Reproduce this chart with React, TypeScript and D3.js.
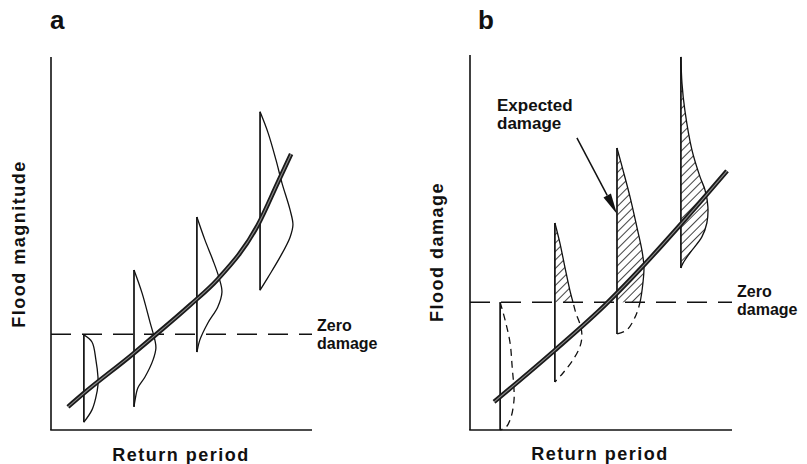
import React from "react";
import * as d3 from "d3";

const W = 807;
const H = 464;

// ---------- Panel a (domain units 0-100) ----------
const curveA_x = [6.5, 12.3, 31.4, 38.7, 53.3, 64.0, 79.3, 87.0, 92.0];
const curveA_y = [6.2, 9.7, 20.4, 24.7, 33.5, 40.5, 55.0, 66.5, 74.0];
const zeroA = 25.7;
const distA_x = [12.6, 31.8, 55.9, 80.1];
const distA1_v = [25.5, 23.6, 18.8, 14.2, 12.1, 8.8, 5.4, 2.1];
const distA1_w = [0, 3.1, 4.6, 5.4, 5.4, 4.6, 3.1, 0];
const distA2_v = [42.9, 36.7, 29.0, 24.1, 22.0, 18.8, 14.2, 11.3, 8.0, 6.2];
const distA2_w = [0, 3.1, 6.1, 8.0, 8.4, 7.3, 4.2, 1.5, 0.4, 0];
const distA3_v = [57.1, 50.9, 45.6, 41.0, 37.0, 33.0, 28.7, 24.1, 20.9];
const distA3_w = [0, 3.1, 6.1, 8.4, 9.6, 8.0, 4.2, 1.1, 0];
const distA4_v = [85.3, 79.6, 72.4, 66.2, 59.0, 55.0, 51.7, 46.4, 41.0, 37.5];
const distA4_w = [0, 3.1, 6.1, 8.4, 11.5, 12.6, 11.5, 7.7, 3.1, 0];

// ---------- Panel b ----------
const curveB_x = [9.2, 32.1, 51.5, 66.0, 80.5, 98.1];
const curveB_y = [7.5, 21.1, 33.3, 43.7, 54.9, 69.1];
const zeroB = 34.1;
const distB_x = [11.5, 32.4, 56.1, 80.5];
const distB1_v = [34.1, 29.3, 23.2, 16.8, 10.7, 8.0, 3.5, 0.8, 0];
const distB1_w = [0, 1.9, 3.8, 4.6, 5.3, 5.3, 4.2, 2.3, 0];
const distB2_v = [55.2, 49.9, 43.5, 37.3, 34.1, 31.2, 27.5, 24.8, 22.1, 18.7, 15.2, 12.8];
const distB2_w = [0, 1.9, 3.8, 5.7, 6.9, 8.0, 9.9, 10.3, 9.5, 6.9, 3.1, 0];
const distB3_v = [75.2, 69.3, 62.1, 54.1, 48.0, 43.5, 39.2, 34.1, 30.1, 26.7, 25.6];
const distB3_w = [0, 2.3, 5.0, 7.6, 9.5, 10.3, 9.9, 8.8, 6.9, 3.8, 0];
const distB4_v = [99.5, 92.5, 85.3, 74.7, 67.5, 64.0, 59.5, 55.2, 51.5, 47.2, 44.5, 43.2];
const distB4_w = [0, 0.4, 1.5, 4.2, 7.3, 9.2, 10.3, 9.9, 8.0, 3.4, 0.8, 0];

const arrowFrom = [40.8, 77.9];
const arrowTo = [56.1, 57.6];

const labelsA = { panel: "a", y: "Flood magnitude", x: "Return period", zero: ["Zero", "damage"] };
const labelsB = { panel: "b", y: "Flood damage", x: "Return period", zero: ["Zero", "damage"], note: ["Expected", "damage"] };

const FONT = "'Liberation Sans', Arial, Helvetica, sans-serif";
const INK = "#111";

const xA = d3.scaleLinear().domain([0, 100]).range([51, 312]);
const yA = d3.scaleLinear().domain([0, 100]).range([430, 57]);
const xB = d3.scaleLinear().domain([0, 100]).range([470, 732]);
const yB = d3.scaleLinear().domain([0, 100]).range([430, 55]);

type S = d3.ScaleLinear<number, number>;

function zip(a: number[], b: number[]): [number, number][] {
  return a.map((v, i) => [v, b[i]]);
}

function distPath(base: number, vs: number[], ws: number[], x: S, y: S) {
  const line = d3
    .line<[number, number]>()
    .x((d) => x(base + d[1]))
    .y((d) => y(d[0]))
    .curve(d3.curveCatmullRom.alpha(0.5));
  return line(zip(vs, ws)) || "";
}

function thickPath(xs: number[], ys: number[], x: S, y: S) {
  const line = d3
    .line<[number, number]>()
    .x((d) => x(d[0]))
    .y((d) => y(d[1]))
    .curve(d3.curveMonotoneX);
  return line(zip(xs, ys)) || "";
}

function ThickCurve({ d }: { d: string }) {
  return (
    <g>
      <path d={d} fill="none" stroke="#1a1a1a" strokeWidth={4.6} strokeLinecap="butt" />
      <path d={d} fill="none" stroke="#8a8a8a" strokeWidth={1.1} />
    </g>
  );
}

function Axes({ x, y }: { x: S; y: S }) {
  return (
    <g stroke={INK} strokeWidth={1.6}>
      <line x1={x(0)} y1={y(0)} x2={x(0)} y2={y(100)} />
      <line x1={x(0) - 0.8} y1={y(0)} x2={x(100)} y2={y(0)} />
    </g>
  );
}

export default function App() {
  const distsA = [
    [distA1_v, distA1_w],
    [distA2_v, distA2_w],
    [distA3_v, distA3_w],
    [distA4_v, distA4_w],
  ];
  const distsB = [
    [distB1_v, distB1_w],
    [distB2_v, distB2_w],
    [distB3_v, distB3_w],
    [distB4_v, distB4_w],
  ];

  const zeroYB = yB(zeroB);

  // arrow geometry
  const ax1 = xB(arrowFrom[0]);
  const ay1 = yB(arrowFrom[1]);
  const ax2 = xB(arrowTo[0]);
  const ay2 = yB(arrowTo[1]);
  const ang = Math.atan2(ay2 - ay1, ax2 - ax1);
  const headLen = 21;
  const headW = 4.2;
  const bx = ax2 - headLen * Math.cos(ang);
  const by = ay2 - headLen * Math.sin(ang);
  const px = -Math.sin(ang) * headW;
  const py = Math.cos(ang) * headW;

  const titleStyle: React.CSSProperties = {
    fontFamily: FONT,
    fontWeight: 700,
    fontSize: 18,
    letterSpacing: 1.5,
  };
  const smallStyle: React.CSSProperties = {
    fontFamily: FONT,
    fontWeight: 700,
    fontSize: 16,
  };

  return (
    <svg
      width={W}
      height={H}
      viewBox={`0 0 ${W} ${H}`}
      style={{ position: "absolute", left: 0, top: 0, background: "#fff" }}
    >
      <defs>
        <pattern
          id="hatch"
          patternUnits="userSpaceOnUse"
          width={6}
          height={6}
          patternTransform="rotate(45)"
        >
          <line x1={0} y1={-1} x2={0} y2={7} stroke={INK} strokeWidth={1.6} />
        </pattern>
        <clipPath id="aboveB">
          <rect x={0} y={0} width={W} height={zeroYB} />
        </clipPath>
        <clipPath id="belowB">
          <rect x={0} y={zeroYB} width={W} height={H - zeroYB} />
        </clipPath>
      </defs>

      {/* ================= Panel a ================= */}
      <text x={50} y={29} style={{ fontFamily: FONT, fontWeight: 700, fontSize: 26 }} fill={INK}>
        {labelsA.panel}
      </text>
      <Axes x={xA} y={yA} />
      <line
        x1={xA(0)}
        y1={yA(zeroA)}
        x2={xA(100)}
        y2={yA(zeroA)}
        stroke={INK}
        strokeWidth={1.5}
        strokeDasharray="20,11"
      />
      {distsA.map(([vs, ws], i) => (
        <g key={"a" + i}>
          <line
            x1={xA(distA_x[i])}
            y1={yA(vs[0])}
            x2={xA(distA_x[i])}
            y2={yA(vs[vs.length - 1])}
            stroke={INK}
            strokeWidth={1.7}
          />
          <path d={distPath(distA_x[i], vs, ws, xA, yA)} fill="none" stroke={INK} strokeWidth={1.3} />
        </g>
      ))}
      <ThickCurve d={thickPath(curveA_x, curveA_y, xA, yA)} />
      <text x={317} y={331} style={smallStyle} fill={INK}>
        {labelsA.zero[0]}
      </text>
      <text x={317} y={349} style={smallStyle} fill={INK}>
        {labelsA.zero[1]}
      </text>
      <text
        transform={`translate(25,244) rotate(-90)`}
        textAnchor="middle"
        style={titleStyle}
        fill={INK}
      >
        {labelsA.y}
      </text>
      <text x={181} y={461} textAnchor="middle" style={titleStyle} fill={INK}>
        {labelsA.x}
      </text>

      {/* ================= Panel b ================= */}
      <text x={478} y={29} style={{ fontFamily: FONT, fontWeight: 700, fontSize: 26 }} fill={INK}>
        {labelsB.panel}
      </text>
      <Axes x={xB} y={yB} />
      <line
        x1={xB(0)}
        y1={zeroYB}
        x2={xB(100)}
        y2={zeroYB}
        stroke={INK}
        strokeWidth={1.5}
        strokeDasharray="20,11"
      />
      {distsB.map(([vs, ws], i) => {
        const d = distPath(distB_x[i], vs, ws, xB, yB);
        return (
          <g key={"b" + i}>
            <path d={d + "Z"} fill="url(#hatch)" stroke="none" clipPath="url(#aboveB)" />
            <line
              x1={xB(distB_x[i])}
              y1={yB(vs[0])}
              x2={xB(distB_x[i])}
              y2={yB(vs[vs.length - 1])}
              stroke={INK}
              strokeWidth={1.7}
            />
            <path d={d} fill="none" stroke={INK} strokeWidth={1.3} clipPath="url(#aboveB)" />
            <path
              d={d}
              fill="none"
              stroke={INK}
              strokeWidth={1.3}
              strokeDasharray="7,5"
              clipPath="url(#belowB)"
            />
          </g>
        );
      })}
      <ThickCurve d={thickPath(curveB_x, curveB_y, xB, yB)} />
      <line x1={ax1} y1={ay1} x2={bx} y2={by} stroke={INK} strokeWidth={1.5} />
      <polygon
        points={`${ax2},${ay2} ${bx + px},${by + py} ${bx - px},${by - py}`}
        fill={INK}
      />
      <text x={497} y={111} style={{ ...smallStyle, fontSize: 17 }} fill={INK}>
        {labelsB.note[0]}
      </text>
      <text x={497} y={129} style={{ ...smallStyle, fontSize: 17 }} fill={INK}>
        {labelsB.note[1]}
      </text>
      <text x={737} y={297} style={smallStyle} fill={INK}>
        {labelsB.zero[0]}
      </text>
      <text x={737} y={315} style={smallStyle} fill={INK}>
        {labelsB.zero[1]}
      </text>
      <text
        transform={`translate(443,252) rotate(-90)`}
        textAnchor="middle"
        style={titleStyle}
        fill={INK}
      >
        {labelsB.y}
      </text>
      <text x={600} y={460} textAnchor="middle" style={titleStyle} fill={INK}>
        {labelsB.x}
      </text>
    </svg>
  );
}
